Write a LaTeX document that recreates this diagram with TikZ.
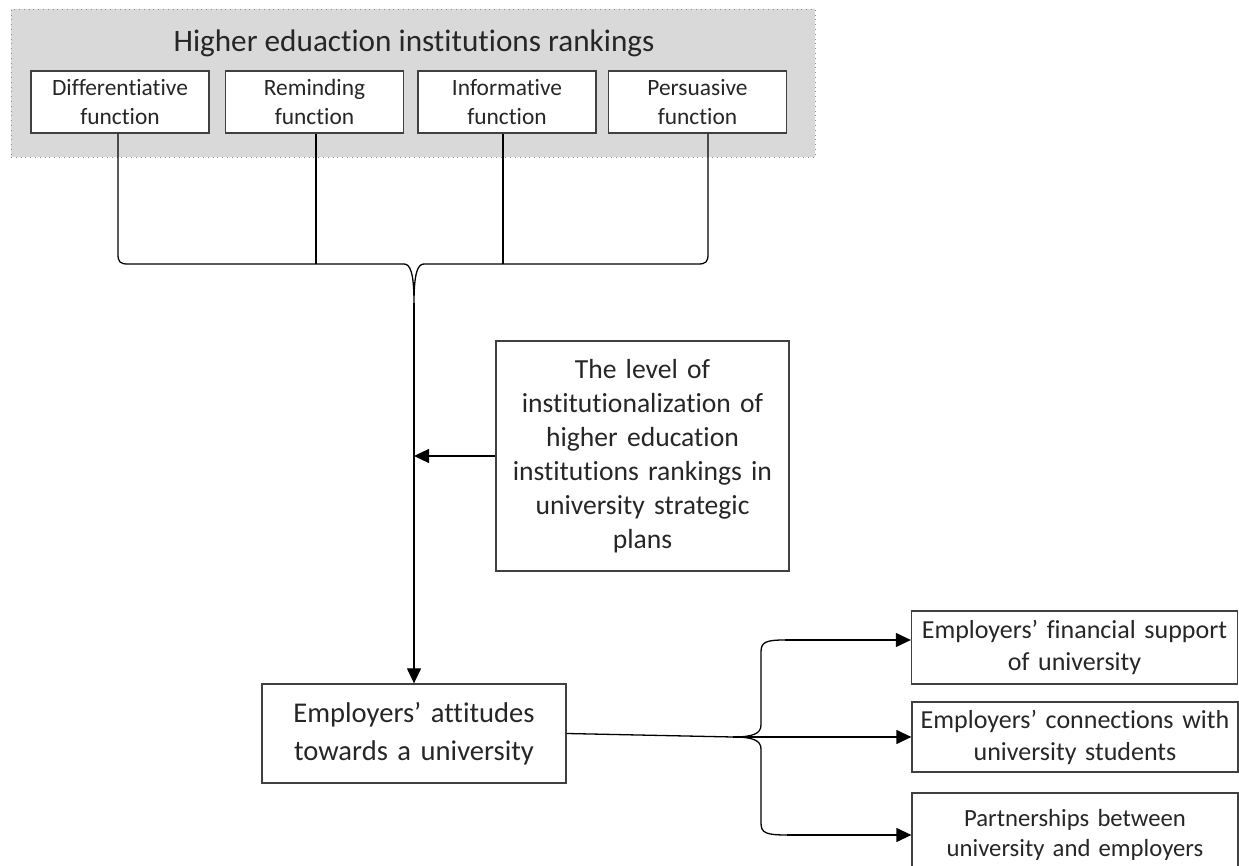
\documentclass[tikz,border=0pt]{standalone}
\usepackage{fontspec}
\setmainfont{Carlito}[Ligatures={NoCommon,NoContextual}]
\usepackage{tikz}
\usetikzlibrary{arrows.meta, positioning}
\definecolor{panelgray}{HTML}{D9D9D9}
\definecolor{boxline}{HTML}{404040}
\tikzstyle{arrow} = [line width=0.65pt, -{Triangle[length=7.5pt,width=7pt]}]
\tikzstyle{link} = [line width=0.65pt]
\tikzstyle{panel} = [rectangle, draw=black!45, dotted, fill=panelgray, minimum width=402pt, minimum height=74pt, inner sep=0pt]
\tikzstyle{funcbox} = [rectangle, draw=boxline, solid, fill=white, line width=0.65pt, minimum width=89pt, minimum height=31pt, inner sep=0pt, text width=86pt, font=\fontsize{11.7}{14.2}\selectfont]
\tikzstyle{bigbox} = [rectangle, draw=boxline, line width=0.65pt, inner sep=0pt, font=\fontsize{13.8}{17}\selectfont]
\tikzstyle{outbox} = [rectangle, draw=boxline, line width=0.65pt, minimum width=163pt, inner sep=0pt, text width=160pt, font=\fontsize{13}{16}\selectfont]
\tikzset{every node/.style={align=center, text=black!85}}

\begin{document}
\begin{tikzpicture}[x=0.5pt, y=-0.5pt]
    \useasboundingbox (0,0) rectangle (1239,866);

    % rankings panel
    \node (rank)  [panel] at (413,83) {};
    \node (title) [anchor=base, font=\fontsize{15.6}{19}\selectfont] at (414,52) {Higher eduaction institutions rankings};
    \node (diff)  [funcbox] at (120,102)   {Differentiative\\function};
    \node (remi)  [funcbox] at (314.5,102) {Reminding\\function};
    \node (info)  [funcbox] at (507,102)   {Informative\\function};
    \node (pers)  [funcbox] at (697.5,102) {Persuasive\\function};

    % moderator and outcome
    \node (lvl) [bigbox, minimum width=146.5pt, minimum height=115pt, text width=140pt] at (642.5,456)
        {The level of\\institutionalization of\\higher education\\institutions rankings in\\university strategic\\plans};
    \node (emp) [bigbox, minimum width=152pt, minimum height=49.5pt, text width=148pt, font=\fontsize{14.3}{19}\selectfont] at (414,733.5)
        {Employers' attitudes\\towards a university};

    % effects
    \node (finA)  [outbox, minimum height=36.5pt] at (1074.5,647.5) {Employers' financial support\\of university};
    \node (conB)  [outbox, minimum height=35pt]   at (1075,737)     {Employers' connections with\\university students};
    \node (partC) [outbox, minimum height=42pt, font=\fontsize{12.35}{15}\selectfont] at (1075,835) {Partnerships between\\university and employers};

    % top brace
    \coordinate (k1) at (118,264);
    \coordinate (k2) at (316,264);
    \coordinate (k3) at (503,264);
    \coordinate (k4) at (708,264);
    \coordinate (tc) at (414,303);
    \draw [link] (k1 |- diff.south) -- (118,254) .. controls (118,262) and (120,264) .. (128,264) -- (404,264)
        .. controls (410,264) and (414,272) .. (tc)
        .. controls (414,272) and (418,264) .. (424,264) -- (698,264)
        .. controls (706,264) and (708,262) .. (708,254) -- (k4 |- pers.south);
    \draw [link] (k2 |- remi.south) -- (k2);
    \draw [link] (k3 |- info.south) -- (k3);
    \draw [arrow] (tc) -- (emp.north);
    \draw [arrow] (lvl.west) -- (lvl.west -| tc);

    % right brace
    \coordinate (rc) at (733,737);
    \coordinate (rt) at (785,640);
    \coordinate (rb) at (787,835);
    \draw [link] (emp.east) -- (rc);
    \draw [link] (rt) .. controls (766,640) and (761,642) .. (761,652) -- (761,725)
        .. controls (761,734) and (752,737) .. (rc)
        .. controls (752,737) and (761,740) .. (761,749) -- (761,823)
        .. controls (761,833) and (766,835) .. (rb);
    \draw [arrow] (rt) -- (rt -| finA.west);
    \draw [arrow] (rc) -- (rc -| conB.west);
    \draw [arrow] (rb) -- (rb -| partC.west);
\end{tikzpicture}
\end{document}
